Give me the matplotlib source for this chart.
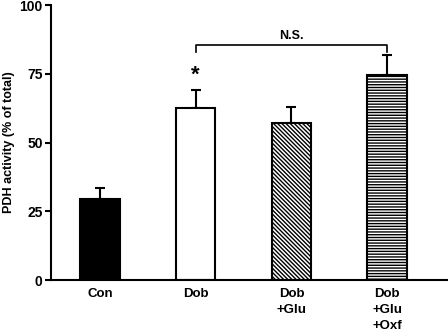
import matplotlib
matplotlib.use("Agg")
import matplotlib.pyplot as plt

categories = ["Con", "Dob", "Dob\n+Glu", "Dob\n+Glu\n+Oxf"]
values = [29.5, 62.5, 57.0, 74.5]
errors = [4.0, 6.5, 6.0, 7.5]
yticks = [0, 25, 50, 75, 100]

plt.rcParams['font.family'] = ['Liberation Sans', 'DejaVu Sans']
plt.rcParams['font.weight'] = 'bold'
plt.rcParams['hatch.linewidth'] = 1.0

fig = plt.figure(figsize=(4.48, 3.35), dpi=100)
ax = fig.add_axes([0.114, 0.164, 0.886, 0.821])

x = list(range(len(categories)))
colors = ["black", "white", "white", "white"]
hatches = [None, None, "\\" * 8, "-" * 6]
for xi, v, e, c, h in zip(x, values, errors, colors, hatches):
    ax.bar(xi, v, width=0.41, color=c, edgecolor="black", linewidth=1.5, hatch=h, zorder=2)
    ax.errorbar(xi, v, yerr=[[0], [e]], fmt="none", ecolor="black", elinewidth=1.5,
                capsize=3.5, capthick=1.5, zorder=1)

ax.set_xlim(-0.512, 3.637)
ax.set_ylim(0, 100)
ax.set_yticks(yticks)
ax.set_xticks(x)
ax.set_xticklabels(categories, fontsize=9.5, fontweight='bold', linespacing=1.45, va='top')
ax.tick_params(axis='x', length=0, pad=6)
ax.tick_params(axis='y', direction='out', length=4, width=1.5, labelsize=10, pad=2)
for lab in ax.get_yticklabels():
    lab.set_fontweight('bold')
ax.spines['top'].set_visible(False)
ax.spines['right'].set_visible(False)
ax.spines['left'].set_linewidth(1.5)
ax.spines['bottom'].set_linewidth(1.5)
ax.set_ylabel("PDH activity (% of total)", fontsize=9, fontweight='bold')
ax.yaxis.set_label_coords(-0.092, 0.5)

# significance annotations
ax.text(1, values[1] + errors[1] + 1.5, "*", ha='center', va='bottom', fontsize=16, fontweight='bold')
ybr = 85.5
ax.plot([1, 1, 3, 3], [ybr - 2.5, ybr, ybr, ybr - 2.5], color='black', lw=1.2, clip_on=False)
ax.text(2, ybr + 1.0, "N.S.", ha='center', va='bottom', fontsize=9, fontweight='bold')

fig.savefig("out.png", dpi=100)
